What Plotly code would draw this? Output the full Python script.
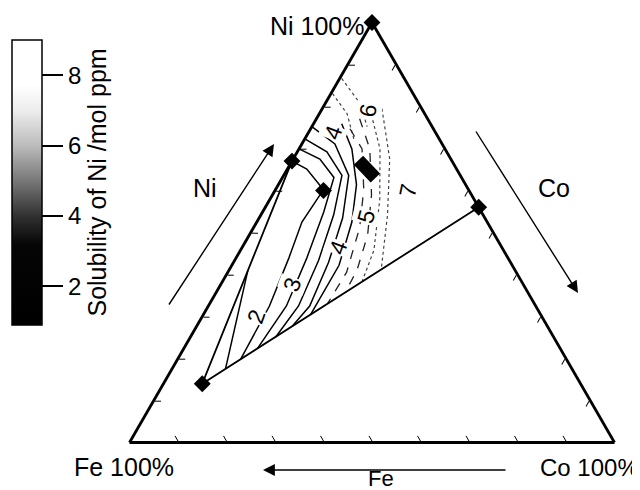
import plotly.graph_objects as go

# ---- data: compositions in mol % (Ni, Co); Fe = 100 - Ni - Co ----
diamond_ni = [100, 67, 60, 56, 14]
diamond_co = [0, 0, 10, 44, 8]
rect_ni = [67.2, 63.0]
rect_co = [13.6, 19.2]
boundary_ni = [67, 14, 56]
boundary_co = [0, 8, 44]

solid_ni = [
    [41.0, 17.6],
    [67.0, 65.1, 60.2],
    [60.2, 52.5, 43.9, 32.5, 19.8],
    [69.9, 67.5, 63.1, 54.9, 43.9, 32.5, 22.4],
    [72.3, 69.2, 63.6, 54.2, 43.4, 32.5, 25.1],
    [75.2, 71.1, 63.6, 53.5, 42.9, 32.5, 27.7],
    [75.9, 69.9, 61.4, 52.5, 42.2, 30.4],
]
solid_co = [
    [3.9, 11.0],
    [0.0, 4.0, 9.9],
    [9.9, 9.3, 10.9, 12.6, 13.0],
    [0.0, 5.5, 10.6, 12.6, 14.6, 16.1, 15.2],
    [0.0, 6.1, 12.0, 15.0, 17.3, 18.6, 17.6],
    [0.0, 6.8, 13.4, 17.2, 19.6, 20.9, 19.7],
    [5.8, 10.9, 16.1, 19.6, 22.1, 22.1],
]
dashed_ni = [
    [74.7, 69.9, 60.2, 51.1, 40.5, 33.0],
    [77.1, 69.9, 59.0, 49.4, 41.0, 35.7],
]
dashed_co = [
    [8.1, 13.0, 18.2, 21.9, 24.5, 24.3],
    [8.9, 14.6, 20.4, 24.4, 26.4, 26.6],
]
dotted_ni = [
    [79.5, 69.9, 57.8, 45.8, 38.3],
    [79.5, 67.5, 54.2, 41.2],
    [83.1, 78.3, 72.3],
    [86.7, 80.7, 75.2],
]
dotted_co = [
    [9.8, 16.7, 22.7, 27.5, 28.8],
    [12.3, 19.9, 26.1, 31.3],
    [0.3, 5.7, 10.1],
    [0.4, 7.2, 11.4],
]
cbar_range = [0.9, 9.0]
cbar_ticks = [2, 4, 6, 8]

FONT = "Liberation Sans"


def fe(ni, co):
    return [100 - a - c for a, c in zip(ni, co)]


fig = go.Figure()

# colour-bar carrier (invisible)
fig.add_trace(go.Scatterternary(
    a=[100], b=[0], c=[0], mode="markers", hoverinfo="skip", showlegend=False,
    marker=dict(size=1, opacity=0, color=[5], cmin=cbar_range[0], cmax=cbar_range[1],
                colorscale=[[0, "#000000"], [0.28, "#050505"], [0.38, "#303030"],
                            [0.5, "#747474"], [0.63, "#bcbcbc"], [0.75, "#ececec"],
                            [0.84, "#ffffff"], [1, "#ffffff"]],
                showscale=True,
                colorbar=dict(x=0.0, xanchor="left", xpad=4, y=0.644, yanchor="middle",
                              ypad=10, lenmode="pixels", len=305, thickness=30,
                              outlinewidth=1.5, outlinecolor="black",
                              tickvals=cbar_ticks, ticks="outside", ticklen=21,
                              tickwidth=1.5, tickcolor="black",
                              tickfont=dict(family=FONT, size=24, color="black"),
                              title=dict(text="Solubility of Ni /mol ppm", side="right",
                                         font=dict(family=FONT, size=25, color="black"))))))


def add_lines(nis, cos, width, dash, color):
    for ni, co in zip(nis, cos):
        fig.add_trace(go.Scatterternary(
            a=ni, b=fe(ni, co), c=co, mode="lines", hoverinfo="skip", showlegend=False,
            line=dict(color=color, width=width, dash=dash)))


add_lines(dotted_ni, dotted_co, 1.2, "dot", "#444444")
add_lines(dashed_ni, dashed_co, 1.3, "dash", "#222222")
add_lines(solid_ni, solid_co, 1.5, "solid", "black")

# boundary of the studied region
fig.add_trace(go.Scatterternary(
    a=boundary_ni, b=fe(boundary_ni, boundary_co), c=boundary_co, mode="lines",
    hoverinfo="skip", showlegend=False, line=dict(color="black", width=1.8)))

# the elongated block marker
fig.add_trace(go.Scatterternary(
    a=rect_ni, b=fe(rect_ni, rect_co), c=rect_co, mode="lines",
    hoverinfo="skip", showlegend=False, line=dict(color="black", width=13)))

# diamonds
fig.add_trace(go.Scatterternary(
    a=diamond_ni, b=fe(diamond_ni, diamond_co), c=diamond_co, mode="markers",
    hoverinfo="skip", showlegend=False, cliponaxis=False,
    marker=dict(symbol="diamond", size=13, color="black")))

axis_common = dict(showticklabels=False, ticks="inside", ticklen=6, tickwidth=1.2,
                   tickcolor="black", dtick=10, showgrid=False, linecolor="black",
                   linewidth=2.8, title=dict(text=""))

fig.update_layout(
    width=640, height=490, margin=dict(l=0, r=0, t=0, b=0),
    paper_bgcolor="white", showlegend=False,
    ternary=dict(sum=100, bgcolor="white",
                 domain=dict(x=[0.1891, 0.9484], y=[0.1133, 0.9704]),
                 aaxis=axis_common, baxis=axis_common, caxis=axis_common),
    font=dict(family=FONT, color="black"),
)

ann = []


def label(text, x, y, size=25, xanchor="center", yanchor="middle", angle=0, bg=None):
    d = dict(text=text, x=x / 640, y=1 - y / 490, xref="paper", yref="paper",
             xanchor=xanchor, yanchor=yanchor, showarrow=False, textangle=angle,
             font=dict(family=FONT, size=size, color="black"))
    if bg:
        d["bgcolor"] = bg
        d["borderpad"] = 0
    ann.append(d)


label("Ni 100%", 359, 18, xanchor="right")
label("Fe 100%", 168, 459, xanchor="right")
label("Co 100%", 633, 459, size=24, xanchor="right")
label("Fe", 373, 470, size=22)
label("Ni", 197, 180)
label("Co", 546, 180)

for t, x, y, ang in [("2", 248, 309, -70), ("3", 284, 277, -70), ("4", 330, 240, -70),
                     ("5", 358, 209, -75), ("7", 400, 183, -78), ("4", 325, 125, -70),
                     ("6", 360, 103, -80)]:
    label(t, x, y, size=23, angle=ang, bg="white")


def arrow(x0, y0, x1, y1):
    ann.append(dict(x=x1 / 640, y=1 - y1 / 490, ax=x0 - x1, ay=y0 - y1,
                    xref="paper", yref="paper", axref="pixel", ayref="pixel",
                    text="", showarrow=True, arrowhead=2, arrowsize=1.7,
                    arrowwidth=1.4, arrowcolor="black"))


arrow(160, 298, 266, 136)
arrow(467, 122, 570, 285)
arrow(499, 462, 255, 462)

fig.update_layout(annotations=ann)
fig.write_html("out.html")
